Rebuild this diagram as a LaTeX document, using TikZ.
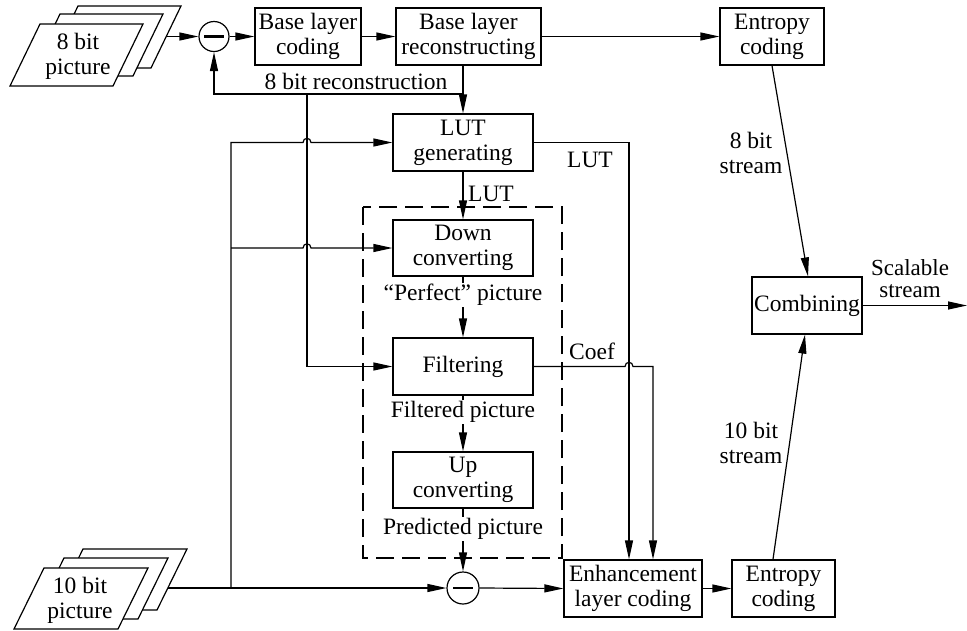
\documentclass[tikz,border=0pt]{standalone}
\usepackage{fontspec}
\setmainfont{Liberation Serif}
\usetikzlibrary{arrows.meta,calc}
\begin{document}
\begin{tikzpicture}[x=1pt,y=-1pt, line width=1.2pt,
  every node/.style={font=\fontsize{23.5}{25}\selectfont},
  box/.style={draw, inner sep=0pt, align=center, minimum width=#1, minimum height=57pt},
  arr/.style={-{Triangle[length=19pt,width=8pt]}},
  minus/.style={draw, circle, inner sep=0pt, minimum size=#1},
  lab/.style={inner sep=1pt, align=center},
  sheet/.style={draw, fill=white, line join=miter}]
\path[use as bounding box] (0,0) rectangle (967,630);

% 8-bit stack
\draw[sheet] (78,6) -- (181,6) -- (151,68) -- (48,68) -- cycle;
\draw[sheet] (60,14) -- (163,14) -- (133,76) -- (30,76) -- cycle;
\draw[sheet] (40,24) -- (143,24) -- (113,86) -- (10,86) -- cycle;
\node[lab] (p8) at (78,56) {8 bit\\picture};

% 10-bit stack
\draw[sheet] (83,549) -- (187,549) -- (157,610) -- (53,610) -- cycle;
\draw[sheet] (64,558) -- (168,558) -- (138,619) -- (34,619) -- cycle;
\draw[sheet] (44,568) -- (148,568) -- (118,629) -- (14,629) -- cycle;
\node[lab] (p10) at (80,600) {10 bit\\picture};

% dashed frame
\draw[dash pattern=on 18pt off 8pt] (363,207) rectangle (562,558);

% boxes
\node[box=106pt] (bl) at (308,36.5) {Base layer\\coding};
\node[box=145pt] (br) at (468.5,36.5) {Base layer\\reconstructing};
\node[box=104pt] (ec1) at (772,36.5) {Entropy\\coding};
\node[box=140pt] (lut) at (463,142.5) {LUT\\generating};
\node[box=140pt, minimum height=56pt] (dc) at (463,248) {Down\\converting};
\node[box=140pt] (fi) at (463,366.5) {Filtering};
\node[box=140pt, minimum height=56pt] (uc) at (463,480) {Up\\converting};
\node[box=138pt] (elc) at (633,588.5) {Enhancement\\layer coding};
\node[box=103pt] (ec2) at (783.5,588.5) {Entropy\\coding};
\node[box=110pt] (comb) at (807,305.5) {Combining};

% subtractors
\node[minus=30pt] (c1) at (214,36.5) {};
\node[minus=32pt] (c2) at (463,588) {};
\draw[line width=2.2pt] ([xshift=-10pt]c1.center) -- ([xshift=10pt]c1.center);
\draw[line width=2.2pt] ([xshift=-10pt]c2.center) -- ([xshift=10pt]c2.center);

% connectors
\coordinate (s8) at (166,36.5);
\draw[arr] (s8) -- (c1.west);
\draw[arr] (c1.east) -- (bl.west);
\draw[arr] (bl.east) -- (br.west);
\draw[arr] (br.east) -- (ec1.west);
\draw[arr] (lut.north |- br.south) -- (lut.north);
\coordinate (rj) at (463,94);
\draw[arr] (rj) -| (c1.south);
\coordinate (rj2) at (307,94);
\draw[arr] (rj2) |- (fi.west);
\coordinate (s10) at (168,588);
\draw[arr] (s10) -- (c2.west);
\coordinate (j10) at (231,588);
\coordinate (ja) at (231,248);
\draw[arr] (j10) |- (303,142.5) .. controls (303,137) and (311,137) .. (311,142.5) -- (lut.west);
\draw[arr] (ja) -- (303,248) .. controls (303,242.5) and (311,242.5) .. (311,248) -- (dc.west);
\draw[arr] (lut.south) -- (dc.north);
\draw[arr] (dc.south) -- (fi.north);
\draw[arr] (fi.south) -- (uc.north);
\draw[arr] (uc.south) -- (c2.north);
\draw[arr] (c2.east) -- (elc.west);
\draw[arr] (lut.east) -| ([xshift=-4pt]elc.north);
\draw[arr] (fi.east) -- (625,366.5) .. controls (625,361) and (633,361) .. (633,366.5) -| ([xshift=20pt]elc.north);
\draw[arr] (elc.east) -- (ec2.west);
\draw[arr] ([xshift=-10.5pt]ec2.north) -- ([xshift=-2pt]comb.south);
\draw[arr] (ec1.south) -- ([xshift=1pt]comb.north);
\coordinate (out) at (967,305.5);
\draw[arr] (comb.east) -- (out);

% labels
\node[lab] (l8r) at (356,81) {8 bit reconstruction};
\node[lab] (llut1) at (491,194) {LUT};
\node[lab] (llut2) at (590,160) {LUT};
\node[lab] (lcoef) at (592,351) {Coef};
\node[lab] (l8s) at (751,153) {8 bit\\stream};
\node[lab] (l10s) at (751,443) {10 bit\\stream};
\node[lab, font=\fontsize{23}{22}\selectfont] (lsc) at (910,279) {Scalable\\stream};
\node[lab, fill=white] (lperf) at (463,295) {“Perfect” picture};
\node[lab, fill=white] (lfilt) at (463,412) {Filtered picture};
\node[lab, fill=white] (lpred) at (463,529) {Predicted picture};
\end{tikzpicture}
\end{document}
